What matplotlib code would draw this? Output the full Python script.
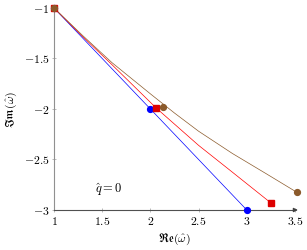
import matplotlib
matplotlib.use("Agg")
import matplotlib.pyplot as plt

plt.rcParams['mathtext.fontset'] = 'cm'
plt.rcParams['font.family'] = 'serif'
plt.rcParams['font.serif'] = ['DejaVu Serif']

# curves
blue_x = [1.0, 2.0, 3.0]
blue_y = [-1.0, -2.0, -3.0]
red_x = [1.0, 1.3, 1.6, 2.06, 2.5, 2.83, 3.25]
red_y = [-1.0, -1.285, -1.56, -1.99, -2.36, -2.61, -2.93]
brown_x = [1.0, 1.3, 1.6, 2.0, 2.25, 2.5, 2.85, 3.2, 3.52]
brown_y = [-1.0, -1.275, -1.54, -1.85, -2.04, -2.22, -2.44, -2.64, -2.825]

# markers
blue_mx = [1.0, 2.0, 3.0]
blue_my = [-1.0, -2.0, -3.0]
red_mx = [1.0, 2.06, 3.25]
red_my = [-1.0, -1.99, -2.93]
brown_mx = [1.0, 2.135, 3.52]
brown_my = [-1.0, -1.98, -2.825]

xticks = [1, 1.5, 2, 2.5, 3, 3.5]
yticks = [-1, -1.5, -2, -2.5, -3]
xticklabels = ['$1$', '$1.5$', '$2$', '$2.5$', '$3$', '$3.5$']
yticklabels = ['$-1$', '$-1.5$', '$-2$', '$-2.5$', '$-3$']

fig = plt.figure(figsize=(3.07, 2.5), dpi=100)
ax = fig.add_axes([54/307, 40/250, 241/307, 202/250])

brown = '#8b5a2b'
ax.plot(blue_x, blue_y, color='blue', lw=0.5, zorder=3, clip_on=False)
ax.plot(red_x, red_y, color='red', lw=0.5, zorder=3, clip_on=False)
ax.plot(brown_x, brown_y, color=brown, lw=0.5, zorder=3, clip_on=False)

ax.plot(blue_mx, blue_my, ls='none', marker='o', ms=4.2, mfc='blue', mec='blue', zorder=4, clip_on=False)
ax.plot(red_mx, red_my, ls='none', marker='s', ms=4.2, mfc='#dd0000', mec='#dd0000', zorder=5, clip_on=False)
ax.plot(brown_mx, brown_my, ls='none', marker='o', ms=4.2, mfc=brown, mec=brown, zorder=6, clip_on=False)

ax.set_xlim(1, 3.5)
ax.set_ylim(-3, -1)
ax.set_xticks(xticks)
ax.set_xticklabels(xticklabels, fontsize=8.5)
ax.set_yticks(yticks)
ax.set_yticklabels(yticklabels, fontsize=8.5)

for s in ['top', 'right']:
    ax.spines[s].set_visible(False)
ax.spines['left'].set_color('#909090')
ax.spines['bottom'].set_color('#505050')
for s in ['left', 'bottom']:
    ax.spines[s].set_linewidth(0.8)
ax.tick_params(direction='inout', length=3, width=0.5, color='#a0a0a0', pad=2)

ax.annotate('', xy=(1.012, 0), xycoords='axes fraction', xytext=(0.99, 0),
            arrowprops=dict(arrowstyle='-|>', color='#404040', lw=0.8, mutation_scale=6))

ax.text(1.57, -2.80, r'$\hat{q}=0$', fontsize=9, ha='center', va='center')

ax.set_xlabel(r'$\mathfrak{Re}(\hat{\omega})$', fontsize=8.5, labelpad=3)
ax.set_ylabel(r'$\mathfrak{Im}(\hat{\omega})$', fontsize=8.5, labelpad=3)

fig.savefig('out.png', dpi=100)
